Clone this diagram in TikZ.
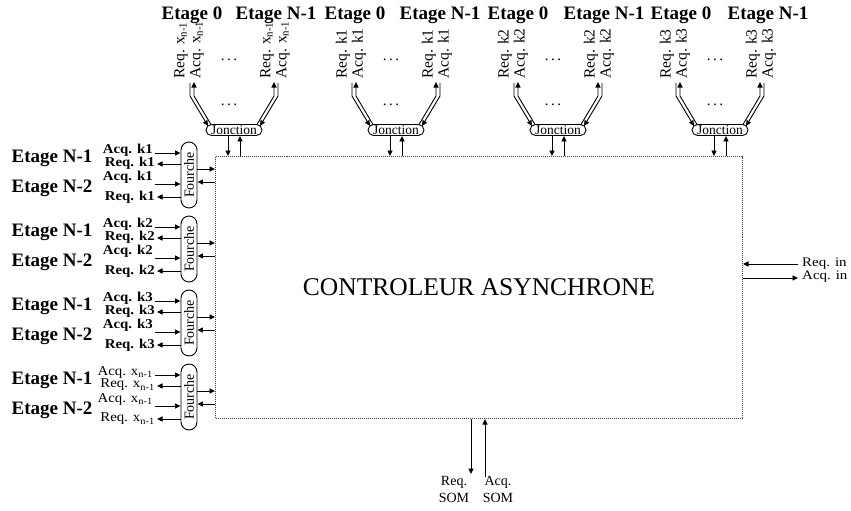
\documentclass[tikz,border=0pt]{standalone}
\usepackage{fontspec}
\setmainfont{Liberation Serif}
\usetikzlibrary{arrows.meta,calc}
\newcommand{\wide}[1]{\scalebox{1.1}[1]{#1}}
\newcommand{\wider}[1]{\scalebox{1.15}[1]{#1}}
\begin{document}
\begin{tikzpicture}[x=1pt,y=-1pt,
  arr/.style={line width=0.9pt,-{Triangle[length=5.5pt,width=5pt]}},
  etage/.style={inner sep=0pt,font=\fontsize{19}{19}\selectfont\bfseries},
  sig/.style={inner sep=0pt,anchor=east,font=\fontsize{13.5}{14}\selectfont},
  vlab/.style={inner sep=0pt,rotate=90,anchor=west,font=\fontsize{15.5}{16}\selectfont},
  jct/.style={draw,line width=0.9pt,rounded corners=5.5pt,minimum width=56pt,minimum height=11pt,inner sep=0pt,font=\fontsize{13.5}{13.5}\selectfont},
  frk/.style={draw,line width=0.9pt,rounded corners=8pt,minimum width=16pt,minimum height=66pt,inner sep=0pt,font=\fontsize{14}{14}\selectfont},
  io/.style={inner sep=0pt,font=\fontsize{13}{14}\selectfont},
  som/.style={inner sep=0pt,align=center,font=\fontsize{14}{17}\selectfont}]
\useasboundingbox (0,0) rectangle (851,511);

\node[draw=black!75,densely dotted,line width=1pt,minimum width=527pt,minimum height=262pt,
      inner sep=0pt,anchor=north west,font=\fontsize{25.5}{26}\selectfont] (ctrl) at (215,156) {CONTROLEUR ASYNCHRONE};

% top groups
\foreach \g/\s/\ea/\eb in {0/{x\textsubscript{n-1}}/192/276, 1/k1/355/440, 2/k2/518/604, 3/k3/681/768} {
  \pgfmathsetmacro{\jx}{234+162*\g}
  \node[jct] (j\g) at (\jx,130) {Jonction};
  \node[etage] (ez\g) at (\ea,15) {Etage 0};
  \node[etage] (en\g) at (\eb,15) {Etage N-1};
  \node[vlab] (ra\g) at (\jx-53,79) {Req. \s};
  \node[vlab] (aa\g) at (\jx-37,79) {Acq. \s};
  \node[vlab] (rb\g) at (\jx+33,79) {Req. \s};
  \node[vlab] (ab\g) at (\jx+49,79) {Acq. \s};
  \node[inner sep=0pt,font=\fontsize{15}{16}\selectfont,anchor=base] (du\g) at (\jx-5,60) {.\,.\,.};
  \node[inner sep=0pt,font=\fontsize{15}{16}\selectfont,anchor=base] (dd\g) at (\jx-5,105) {.\,.\,.};
  \draw[arr] (\jx-44,83) -- (\jx-44,96) -- (\jx-26,126);
  \draw[arr] (\jx-23,124.5) -- (\jx-40,96) -- (\jx-40,82);
  \draw[arr] (\jx+44,83) -- (\jx+44,96) -- (\jx+26,126);
  \draw[arr] (\jx+23,124.5) -- (\jx+40,96) -- (\jx+40,82);
  \draw[arr] ([xshift=-6pt]j\g.south) -- ([xshift=-6pt]j\g.south |- ctrl.north);
  \draw[arr] ([xshift=6pt]j\g.south |- ctrl.north) -- ([xshift=6pt]j\g.south);
}

% left forks
\foreach \i/\s/\w in {0/k1/\bfseries, 1/k2/\bfseries, 2/k3/\bfseries, 3/{x\textsubscript{n-1}}/\mdseries} {
  \pgfmathsetmacro{\yc}{175+74*\i}
  \node[frk] (f\i) at (189,\yc) {\rotatebox{90}{Fourche}};
  \node[etage] (na\i) at (52,\yc-17) {Etage N-1};
  \node[etage] (nb\i) at (52,\yc+13) {Etage N-2};
  \node[sig] (sa\i) at (153,\yc-25) {\wide{\w Acq. \s}};
  \node[sig] (sr\i) at (155,\yc-12) {\wide{\w Req. \s}};
  \node[sig] (sb\i) at (153,\yc+2) {\wide{\w Acq. \s}};
  \node[sig] (ss\i) at (155,\yc+22) {\wide{\w Req. \s}};
  \draw[arr] ([xshift=2pt,yshift=-3pt]sa\i.east) -- ([yshift=-3pt]sa\i.east -| f\i.west);
  \draw[arr] ([yshift=-1pt]sr\i.east -| f\i.west) -- ([xshift=2pt,yshift=-1pt]sr\i.east);
  \draw[arr] ([xshift=2pt,yshift=-7pt]sb\i.east) -- ([yshift=-7pt]sb\i.east -| f\i.west);
  \draw[arr] (ss\i.east -| f\i.west) -- ([xshift=2pt]ss\i.east);
  \draw[arr] ([yshift=6pt]f\i.east) -- ([yshift=6pt]f\i.east -| ctrl.west);
  \draw[arr] ([yshift=-7pt]f\i.east -| ctrl.west) -- ([yshift=-7pt]f\i.east);
}

% right side
\node[io,anchor=west] (rin) at (802,264) {\wider{Req. in}};
\node[io,anchor=west] (ain) at (802,277) {\wider{Acq. in}};
\draw[arr] ([xshift=-4pt]rin.west) -- (rin.west -| ctrl.east);
\draw[arr] ([yshift=-1pt]ain.west -| ctrl.east) -- ([xshift=-4pt,yshift=-1pt]ain.west);

% bottom
\node[som] (srq) at (454,489) {Req.\\SOM};
\node[som] (saq) at (498,489) {Acq.\\SOM};
\coordinate (cr) at (471,474);
\coordinate (ca) at (485,477);
\draw[arr] (cr |- ctrl.south) -- (cr);
\draw[arr] (ca) -- (ca |- ctrl.south);
\end{tikzpicture}
\end{document}
